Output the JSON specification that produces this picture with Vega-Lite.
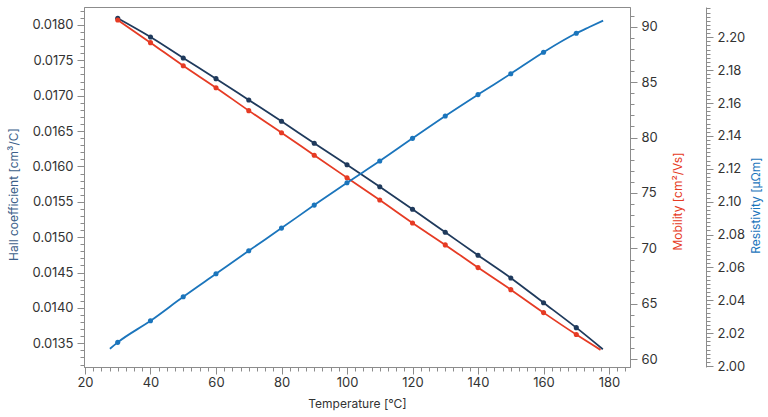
{
  "$schema": "https://vega.github.io/schema/vega-lite/v6.json",
  "autosize": {"type": "none"},
  "padding": {"left": 84, "top": 7, "right": 138, "bottom": 50},
  "width": 546,
  "height": 360,
  "background": "white",
  "config": {
    "font": "Inter",
    "view": {"stroke": "#8c8c8c", "strokeWidth": 1},
    "axis": {
      "grid": false,
      "domainColor": "#8c8c8c",
      "tickColor": "#8c8c8c",
      "labelColor": "#333333",
      "labelFontSize": 13,
      "labelFont": "Inter",
      "titleFont": "Inter",
      "titleFontSize": 12,
      "titleFontWeight": "normal",
      "labelOverlap": false,
      "labelFlush": false
    }
  },
  "data": {
    "values": [
      {"T": 30, "series": "Hall", "value": 0.018095, "measured": true},
      {"T": 40, "series": "Hall", "value": 0.01783, "measured": true},
      {"T": 50, "series": "Hall", "value": 0.017534, "measured": true},
      {"T": 60, "series": "Hall", "value": 0.017241, "measured": true},
      {"T": 70, "series": "Hall", "value": 0.01694, "measured": true},
      {"T": 80, "series": "Hall", "value": 0.016639, "measured": true},
      {"T": 90, "series": "Hall", "value": 0.016328, "measured": true},
      {"T": 100, "series": "Hall", "value": 0.016025, "measured": true},
      {"T": 110, "series": "Hall", "value": 0.015714, "measured": true},
      {"T": 120, "series": "Hall", "value": 0.015395, "measured": true},
      {"T": 130, "series": "Hall", "value": 0.01507, "measured": true},
      {"T": 140, "series": "Hall", "value": 0.014744, "measured": true},
      {"T": 150, "series": "Hall", "value": 0.014424, "measured": true},
      {"T": 160, "series": "Hall", "value": 0.014074, "measured": true},
      {"T": 170, "series": "Hall", "value": 0.013721, "measured": true},
      {"T": 178.1, "series": "Hall", "value": 0.013416, "measured": false},
      {"T": 30, "series": "Mobility", "value": 90.6, "measured": true},
      {"T": 40, "series": "Mobility", "value": 88.56, "measured": true},
      {"T": 50, "series": "Mobility", "value": 86.48, "measured": true},
      {"T": 60, "series": "Mobility", "value": 84.5, "measured": true},
      {"T": 70, "series": "Mobility", "value": 82.43, "measured": true},
      {"T": 80, "series": "Mobility", "value": 80.44, "measured": true},
      {"T": 90, "series": "Mobility", "value": 78.4, "measured": true},
      {"T": 100, "series": "Mobility", "value": 76.38, "measured": true},
      {"T": 110, "series": "Mobility", "value": 74.37, "measured": true},
      {"T": 120, "series": "Mobility", "value": 72.3, "measured": true},
      {"T": 130, "series": "Mobility", "value": 70.32, "measured": true},
      {"T": 140, "series": "Mobility", "value": 68.27, "measured": true},
      {"T": 150, "series": "Mobility", "value": 66.28, "measured": true},
      {"T": 160, "series": "Mobility", "value": 64.21, "measured": true},
      {"T": 170, "series": "Mobility", "value": 62.23, "measured": true},
      {"T": 177.4, "series": "Mobility", "value": 60.85, "measured": false},
      {"T": 27.6, "series": "Resistivity", "value": 2.0105, "measured": false},
      {"T": 30, "series": "Resistivity", "value": 2.0144, "measured": true},
      {"T": 40, "series": "Resistivity", "value": 2.0275, "measured": true},
      {"T": 50, "series": "Resistivity", "value": 2.0421, "measured": true},
      {"T": 60, "series": "Resistivity", "value": 2.0561, "measured": true},
      {"T": 70, "series": "Resistivity", "value": 2.0701, "measured": true},
      {"T": 80, "series": "Resistivity", "value": 2.0839, "measured": true},
      {"T": 90, "series": "Resistivity", "value": 2.0979, "measured": true},
      {"T": 100, "series": "Resistivity", "value": 2.1115, "measured": true},
      {"T": 110, "series": "Resistivity", "value": 2.1247, "measured": true},
      {"T": 120, "series": "Resistivity", "value": 2.1385, "measured": true},
      {"T": 130, "series": "Resistivity", "value": 2.1521, "measured": true},
      {"T": 140, "series": "Resistivity", "value": 2.1651, "measured": true},
      {"T": 150, "series": "Resistivity", "value": 2.1778, "measured": true},
      {"T": 160, "series": "Resistivity", "value": 2.1909, "measured": true},
      {"T": 170, "series": "Resistivity", "value": 2.2024, "measured": true},
      {"T": 174, "series": "Resistivity", "value": 2.2062, "measured": false},
      {"T": 178.2, "series": "Resistivity", "value": 2.2101, "measured": false}
    ]
  },
  "encoding": {
    "x": {
      "field": "T",
      "type": "quantitative",
      "scale": {"domain": [19.7, 186.4], "nice": false, "zero": false},
      "axis": {
        "title": "Temperature [°C]",
        "titleColor": "#333333",
        "titlePadding": 9,
        "labelPadding": 2,
        "values": [20, 22.5, 25, 27.5, 30, 32.5, 35, 37.5, 40, 42.5, 45, 47.5, 50, 52.5, 55, 57.5, 60, 62.5, 65, 67.5, 70, 72.5, 75, 77.5, 80, 82.5, 85, 87.5, 90, 92.5, 95, 97.5, 100, 102.5, 105, 107.5, 110, 112.5, 115, 117.5, 120, 122.5, 125, 127.5, 130, 132.5, 135, 137.5, 140, 142.5, 145, 147.5, 150, 152.5, 155, 157.5, 160, 162.5, 165, 167.5, 170, 172.5, 175, 177.5, 180, 182.5, 185],
        "labelExpr": "datum.value % 20 === 0 ? datum.label : ''",
        "tickSize": {"condition": {"test": "datum.value % 20 === 0", "value": 7}, "value": 4}
      }
    }
  },
  "layer": [
    {
      "transform": [{"filter": "datum.series === 'Hall'"}],
      "encoding": {
        "y": {
          "field": "value",
          "type": "quantitative",
          "scale": {"domain": [0.013165, 0.018254], "nice": false, "zero": false},
          "axis": {
            "orient": "left",
            "title": "Hall coefficient [cm³/C]",
            "titleColor": "#3d5f8a",
            "titlePadding": 11,
            "titleY": 187,
            "labelPadding": 4,
            "values": [0.0132, 0.0133, 0.0134, 0.0135, 0.0136, 0.0137, 0.0138, 0.0139, 0.014, 0.0141, 0.0142, 0.0143, 0.0144, 0.0145, 0.0146, 0.0147, 0.0148, 0.0149, 0.015, 0.0151, 0.0152, 0.0153, 0.0154, 0.0155, 0.0156, 0.0157, 0.0158, 0.0159, 0.016, 0.0161, 0.0162, 0.0163, 0.0164, 0.0165, 0.0166, 0.0167, 0.0168, 0.0169, 0.017, 0.0171, 0.0172, 0.0173, 0.0174, 0.0175, 0.0176, 0.0177, 0.0178, 0.0179, 0.018, 0.0181, 0.0182],
            "labelExpr": "round(datum.value * 10000) % 5 === 0 ? format(datum.value, '.4f') : ''",
            "tickSize": {"condition": {"test": "round(datum.value * 10000) % 5 === 0", "value": 7}, "value": 4}
          }
        }
      },
      "layer": [
        {"mark": {"type": "line", "color": "#1f3a5c", "strokeWidth": 1.8, "interpolate": "monotone"}},
        {
          "transform": [{"filter": "datum.measured"}],
          "mark": {"type": "point", "filled": true, "opacity": 1, "color": "#1f3a5c", "size": 26}
        }
      ]
    },
    {
      "transform": [{"filter": "datum.series === 'Mobility'"}],
      "encoding": {
        "y": {
          "field": "value",
          "type": "quantitative",
          "scale": {"domain": [59.305, 91.777], "nice": false, "zero": false},
          "axis": {
            "orient": "right",
            "title": "Mobility [cm²/Vs]",
            "titleColor": "#e63b24",
            "titleAngle": -90,
            "titlePadding": 27,
            "titleY": 194,
            "labelPadding": 4,
            "values": [60, 61, 62, 63, 64, 65, 66, 67, 68, 69, 70, 71, 72, 73, 74, 75, 76, 77, 78, 79, 80, 81, 82, 83, 84, 85, 86, 87, 88, 89, 90, 91],
            "labelExpr": "datum.value % 5 === 0 ? datum.label : ''",
            "tickSize": {"condition": {"test": "datum.value % 5 === 0", "value": 7}, "value": 4}
          }
        }
      },
      "layer": [
        {"mark": {"type": "line", "color": "#e63b24", "strokeWidth": 1.8, "interpolate": "monotone"}},
        {
          "transform": [{"filter": "datum.measured"}],
          "mark": {"type": "point", "filled": true, "opacity": 1, "color": "#e63b24", "size": 26}
        }
      ]
    },
    {
      "transform": [{"filter": "datum.series === 'Resistivity'"}],
      "encoding": {
        "y": {
          "field": "value",
          "type": "quantitative",
          "scale": {"domain": [1.9994, 2.2184], "nice": false, "zero": false},
          "axis": {
            "orient": "right",
            "offset": 76,
            "title": "Resistivity [µΩm]",
            "titleColor": "#1b75bc",
            "titleAngle": -90,
            "titlePadding": 18,
            "titleY": 198,
            "labelPadding": 4,
            "values": [2, 2.0025, 2.005, 2.0075, 2.01, 2.0125, 2.015, 2.0175, 2.02, 2.0225, 2.025, 2.0275, 2.03, 2.0325, 2.035, 2.0375, 2.04, 2.0425, 2.045, 2.0475, 2.05, 2.0525, 2.055, 2.0575, 2.06, 2.0625, 2.065, 2.0675, 2.07, 2.0725, 2.075, 2.0775, 2.08, 2.0825, 2.085, 2.0875, 2.09, 2.0925, 2.095, 2.0975, 2.1, 2.1025, 2.105, 2.1075, 2.11, 2.1125, 2.115, 2.1175, 2.12, 2.1225, 2.125, 2.1275, 2.13, 2.1325, 2.135, 2.1375, 2.14, 2.1425, 2.145, 2.1475, 2.15, 2.1525, 2.155, 2.1575, 2.16, 2.1625, 2.165, 2.1675, 2.17, 2.1725, 2.175, 2.1775, 2.18, 2.1825, 2.185, 2.1875, 2.19, 2.1925, 2.195, 2.1975, 2.2, 2.2025, 2.205, 2.2075, 2.21, 2.2125, 2.215, 2.2175],
            "labelExpr": "round(datum.value * 400) % 8 === 0 ? format(datum.value, '.2f') : ''",
            "tickSize": {"condition": {"test": "round(datum.value * 400) % 8 === 0", "value": 7}, "value": 4}
          }
        }
      },
      "layer": [
        {"mark": {"type": "line", "color": "#1b75bc", "strokeWidth": 1.8, "interpolate": "monotone"}},
        {
          "transform": [{"filter": "datum.measured"}],
          "mark": {"type": "point", "filled": true, "opacity": 1, "color": "#1b75bc", "size": 26}
        }
      ]
    }
  ],
  "resolve": {"scale": {"y": "independent"}}
}
